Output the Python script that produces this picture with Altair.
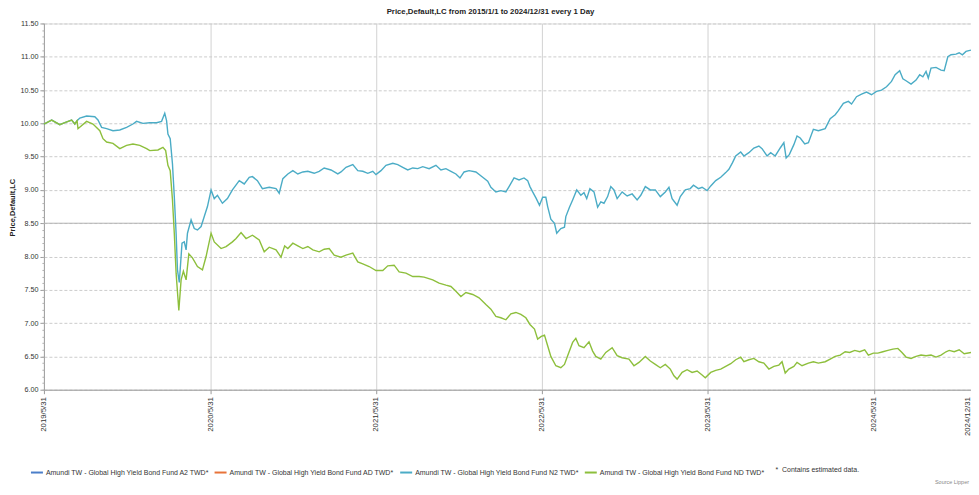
import altair as alt
import pandas as pd

TITLE = "Price,Default,LC from 2015/1/1 to 2024/12/31 every 1 Day"
Y_TITLE = "Price,Default,LC"
SOURCE = "Source Lipper"
NOTE = "*\u00a0\u00a0Contains estimated data."

FUNDS = [
    "Amundi TW - Global High Yield Bond Fund A2 TWD*",
    "Amundi TW - Global High Yield Bond Fund AD TWD*",
    "Amundi TW - Global High Yield Bond Fund N2 TWD*",
    "Amundi TW - Global High Yield Bond Fund ND TWD*",
]
FUND_COLORS = ["#4a7ec9", "#e8733a", "#4bacc6", "#8dbf3c"]

X_TICKS = ["2019-05-31", "2020-05-31", "2021-05-31", "2022-05-31",
           "2023-05-31", "2024-05-31", "2024-12-31"]
Y_MAJOR = [6.0, 6.5, 7.0, 7.5, 8.0, 8.5, 9.0, 9.5, 10.0, 10.5, 11.0, 11.5]
Y_MINOR = [round(6.0 + 0.1 * i, 1) for i in range(56)]

n2_dates = [
    "2019-05-31", "2019-06-17", "2019-07-05", "2019-07-16", "2019-07-31", "2019-08-07", "2019-08-12",
    "2019-08-18", "2019-09-02", "2019-09-20", "2019-09-27", "2019-10-05", "2019-10-16", "2019-10-30",
    "2019-11-14", "2019-11-29", "2019-12-13", "2019-12-21", "2020-01-04", "2020-01-19", "2020-02-03",
    "2020-02-14", "2020-02-21", "2020-02-25", "2020-02-28", "2020-03-04", "2020-03-09", "2020-03-13",
    "2020-03-17", "2020-03-20", "2020-03-24", "2020-03-30", "2020-04-04", "2020-04-08", "2020-04-11",
    "2020-04-19", "2020-04-26", "2020-05-03", "2020-05-11", "2020-05-18", "2020-05-25", "2020-06-02",
    "2020-06-09", "2020-06-16", "2020-06-27", "2020-07-08", "2020-07-19", "2020-08-03", "2020-08-14",
    "2020-08-25", "2020-09-01", "2020-09-12", "2020-09-23", "2020-10-08", "2020-10-23", "2020-10-30",
    "2020-11-07", "2020-11-18", "2020-11-29", "2020-12-10", "2020-12-21", "2021-01-01", "2021-01-15",
    "2021-01-26", "2021-02-06", "2021-02-21", "2021-03-08", "2021-03-15", "2021-03-26", "2021-04-10",
    "2021-04-21", "2021-05-02", "2021-05-13", "2021-05-24", "2021-05-31", "2021-06-11", "2021-06-22",
    "2021-07-07", "2021-07-18", "2021-07-29", "2021-08-09", "2021-08-20", "2021-08-31", "2021-09-11",
    "2021-09-25", "2021-10-10", "2021-10-21", "2021-11-01", "2021-11-12", "2021-11-23", "2021-12-02",
    "2021-12-11", "2021-12-22", "2022-01-06", "2022-01-21", "2022-02-01", "2022-02-08", "2022-02-19",
    "2022-03-02", "2022-03-13", "2022-03-20", "2022-03-31", "2022-04-11", "2022-04-22", "2022-04-30",
    "2022-05-05", "2022-05-11", "2022-05-19", "2022-05-26", "2022-06-02", "2022-06-09", "2022-06-13",
    "2022-06-20", "2022-06-28", "2022-07-03", "2022-07-12", "2022-07-20", "2022-07-23", "2022-07-31",
    "2022-08-07", "2022-08-16", "2022-08-25", "2022-09-01", "2022-09-07", "2022-09-14", "2022-09-23",
    "2022-10-01", "2022-10-08", "2022-10-15", "2022-10-23", "2022-10-30", "2022-11-06", "2022-11-13",
    "2022-11-24", "2022-12-05", "2022-12-16", "2022-12-27", "2023-01-04", "2023-01-14", "2023-01-25",
    "2023-02-05", "2023-02-16", "2023-02-27", "2023-03-07", "2023-03-14", "2023-03-25", "2023-04-01",
    "2023-04-12", "2023-04-23", "2023-04-30", "2023-05-11", "2023-05-19", "2023-05-30", "2023-06-07",
    "2023-06-18", "2023-06-29", "2023-07-10", "2023-07-17", "2023-07-25", "2023-08-01", "2023-08-12",
    "2023-08-19", "2023-08-30", "2023-09-10", "2023-09-21", "2023-09-28", "2023-10-09", "2023-10-17",
    "2023-10-27", "2023-11-07", "2023-11-15", "2023-11-20", "2023-11-27", "2023-12-07", "2023-12-14",
    "2023-12-21", "2023-12-31", "2024-01-08", "2024-01-19", "2024-01-30", "2024-02-14", "2024-02-25",
    "2024-03-07", "2024-03-14", "2024-03-25", "2024-04-05", "2024-04-12", "2024-04-23", "2024-05-04",
    "2024-05-15", "2024-05-26", "2024-06-06", "2024-06-17", "2024-06-28", "2024-07-09", "2024-07-17",
    "2024-07-27", "2024-08-03", "2024-08-10", "2024-08-21", "2024-09-01", "2024-09-09", "2024-09-16",
    "2024-09-23", "2024-09-28", "2024-10-04", "2024-10-15", "2024-10-26", "2024-11-02", "2024-11-10",
    "2024-11-17", "2024-11-28", "2024-12-05", "2024-12-12", "2024-12-20", "2024-12-31",
]
n2_values = [
    9.99, 10.05, 9.98, 10.01, 10.05, 9.99, 10.04,
    10.08, 10.11, 10.10, 10.05, 9.94, 9.92, 9.89,
    9.90, 9.94, 9.99, 10.03, 10.00, 10.01, 10.01,
    10.03, 10.15, 10.04, 9.84, 9.77, 9.39, 8.90,
    8.35, 7.80, 7.61, 8.20, 8.22, 8.10, 8.35,
    8.55, 8.42, 8.40, 8.45, 8.60, 8.75, 9.00,
    8.87, 8.92, 8.80, 8.87, 9.00, 9.14, 9.09,
    9.19, 9.20, 9.14, 9.02, 9.04, 9.02, 8.95,
    9.17, 9.24, 9.29, 9.24, 9.27, 9.28, 9.25,
    9.28, 9.33, 9.30, 9.24, 9.27, 9.34, 9.38,
    9.29, 9.28, 9.25, 9.28, 9.23, 9.29, 9.37,
    9.40, 9.38, 9.34, 9.30, 9.33, 9.32, 9.35,
    9.32, 9.37, 9.30, 9.32, 9.28, 9.24, 9.18,
    9.27, 9.29, 9.27, 9.19, 9.13, 9.04, 8.97,
    8.99, 8.97, 9.05, 9.18, 9.15, 9.18, 9.14,
    9.05, 8.97, 8.87, 8.77, 8.89, 8.89, 8.75,
    8.56, 8.50, 8.35, 8.42, 8.44, 8.60, 8.74,
    8.85, 9.00, 8.92, 8.96, 8.87, 9.02, 8.97,
    8.74, 8.82, 8.80, 8.90, 9.05, 9.00, 8.87,
    8.97, 8.91, 8.94, 8.85, 8.92, 9.05, 9.00,
    9.00, 8.90, 8.97, 9.04, 8.87, 8.77, 8.90,
    9.00, 9.02, 9.07, 9.02, 9.04, 8.99, 9.06,
    9.14, 9.19, 9.26, 9.31, 9.41, 9.51, 9.57,
    9.51, 9.56, 9.63, 9.66, 9.62, 9.51, 9.56,
    9.51, 9.63, 9.71, 9.48, 9.53, 9.68, 9.81,
    9.78, 9.69, 9.71, 9.91, 9.89, 9.92, 10.07,
    10.13, 10.19, 10.30, 10.33, 10.29, 10.40, 10.44,
    10.47, 10.43, 10.48, 10.50, 10.55, 10.63, 10.73,
    10.79, 10.67, 10.64, 10.59, 10.65, 10.73, 10.70,
    10.78, 10.68, 10.83, 10.84, 10.80, 10.79, 11.00,
    11.03, 11.04, 11.06, 11.03, 11.08, 11.10,
]

nd_dates = [
    "2019-05-31", "2019-06-17", "2019-07-05", "2019-07-16", "2019-07-31", "2019-08-07", "2019-08-12",
    "2019-08-14", "2019-09-02", "2019-09-16", "2019-10-01", "2019-10-08", "2019-10-16", "2019-10-30",
    "2019-11-14", "2019-11-29", "2019-12-13", "2019-12-28", "2020-01-12", "2020-01-19", "2020-02-06",
    "2020-02-17", "2020-02-23", "2020-02-28", "2020-03-04", "2020-03-09", "2020-03-13", "2020-03-17",
    "2020-03-23", "2020-03-28", "2020-04-02", "2020-04-08", "2020-04-14", "2020-04-22", "2020-05-03",
    "2020-05-14", "2020-05-22", "2020-06-02", "2020-06-09", "2020-06-24", "2020-07-05", "2020-07-19",
    "2020-07-27", "2020-08-07", "2020-08-18", "2020-09-01", "2020-09-16", "2020-09-27", "2020-10-08",
    "2020-10-23", "2020-11-03", "2020-11-11", "2020-11-18", "2020-11-29", "2020-12-10", "2020-12-21",
    "2021-01-01", "2021-01-12", "2021-01-26", "2021-02-06", "2021-02-17", "2021-02-28", "2021-03-15",
    "2021-03-26", "2021-04-10", "2021-04-21", "2021-05-02", "2021-05-16", "2021-05-31", "2021-06-15",
    "2021-06-26", "2021-07-10", "2021-07-21", "2021-08-05", "2021-08-20", "2021-09-03", "2021-09-14",
    "2021-10-03", "2021-10-17", "2021-11-01", "2021-11-12", "2021-11-23", "2021-12-04", "2021-12-15",
    "2021-12-30", "2022-01-13", "2022-01-28", "2022-02-08", "2022-02-19", "2022-03-02", "2022-03-13",
    "2022-03-24", "2022-04-04", "2022-04-15", "2022-04-26", "2022-05-05", "2022-05-15", "2022-05-22",
    "2022-05-30", "2022-06-06", "2022-06-13", "2022-06-20", "2022-07-01", "2022-07-12", "2022-07-20",
    "2022-07-27", "2022-08-07", "2022-08-14", "2022-08-21", "2022-09-01", "2022-09-12", "2022-09-20",
    "2022-09-27", "2022-10-08", "2022-10-19", "2022-11-02", "2022-11-13", "2022-11-24", "2022-12-09",
    "2022-12-20", "2022-12-31", "2023-01-14", "2023-01-25", "2023-02-05", "2023-02-16", "2023-02-27",
    "2023-03-10", "2023-03-18", "2023-03-25", "2023-04-05", "2023-04-16", "2023-04-27", "2023-05-08",
    "2023-05-19", "2023-05-26", "2023-06-07", "2023-06-18", "2023-06-29", "2023-07-10", "2023-07-21",
    "2023-08-01", "2023-08-12", "2023-08-19", "2023-08-30", "2023-09-10", "2023-09-21", "2023-10-02",
    "2023-10-13", "2023-10-24", "2023-11-04", "2023-11-11", "2023-11-18", "2023-11-26", "2023-12-07",
    "2023-12-14", "2023-12-25", "2024-01-08", "2024-01-19", "2024-01-30", "2024-02-14", "2024-02-25",
    "2024-03-07", "2024-03-18", "2024-03-29", "2024-04-08", "2024-04-19", "2024-04-30", "2024-05-11",
    "2024-05-19", "2024-05-30", "2024-06-09", "2024-06-20", "2024-07-01", "2024-07-12", "2024-07-23",
    "2024-08-01", "2024-08-10", "2024-08-21", "2024-09-01", "2024-09-12", "2024-09-23", "2024-10-04",
    "2024-10-15", "2024-10-26", "2024-11-06", "2024-11-13", "2024-11-24", "2024-12-05", "2024-12-16",
    "2024-12-31",
]
nd_values = [
    9.99, 10.05, 9.98, 10.01, 10.05, 9.99, 10.04,
    9.92, 10.03, 9.99, 9.89, 9.77, 9.72, 9.70,
    9.62, 9.67, 9.69, 9.67, 9.62, 9.59, 9.60,
    9.64, 9.59, 9.37, 9.29, 8.85, 8.35, 7.75,
    7.19, 7.65, 7.78, 7.65, 8.04, 7.98, 7.85,
    7.80, 8.00, 8.35, 8.22, 8.12, 8.15, 8.22,
    8.27, 8.36, 8.27, 8.32, 8.25, 8.07, 8.14,
    8.10, 7.99, 8.16, 8.12, 8.20, 8.16, 8.12,
    8.15, 8.10, 8.07, 8.11, 8.12, 8.02, 7.99,
    8.02, 8.05, 7.92, 7.89, 7.85, 7.79, 7.79,
    7.86, 7.87, 7.77, 7.75, 7.70, 7.70, 7.69,
    7.65, 7.60, 7.57, 7.55, 7.48, 7.40, 7.46,
    7.43, 7.38, 7.28, 7.21, 7.10, 7.08, 7.05,
    7.14, 7.16, 7.13, 7.08, 6.98, 6.91, 6.76,
    6.80, 6.82, 6.66, 6.50, 6.36, 6.33, 6.38,
    6.51, 6.71, 6.77, 6.66, 6.63, 6.72, 6.58,
    6.50, 6.46, 6.56, 6.63, 6.51, 6.48, 6.46,
    6.36, 6.41, 6.50, 6.43, 6.38, 6.33, 6.38,
    6.31, 6.21, 6.16, 6.26, 6.30, 6.26, 6.28,
    6.22, 6.18, 6.26, 6.29, 6.31, 6.35, 6.39,
    6.45, 6.49, 6.42, 6.45, 6.47, 6.42, 6.40,
    6.31, 6.35, 6.37, 6.42, 6.25, 6.31, 6.35,
    6.41, 6.36, 6.40, 6.42, 6.40, 6.42, 6.46,
    6.50, 6.52, 6.57, 6.56, 6.59, 6.57, 6.60,
    6.52, 6.55, 6.55, 6.57, 6.59, 6.61, 6.62,
    6.56, 6.49, 6.47, 6.50, 6.52, 6.51, 6.52,
    6.49, 6.52, 6.57, 6.59, 6.57, 6.60, 6.54,
    6.56,
]

n2_df = pd.DataFrame({"date": n2_dates, "value": n2_values, "fund": FUNDS[2]})
nd_df = pd.DataFrame({"date": nd_dates, "value": nd_values, "fund": FUNDS[3]})
ref_df = pd.DataFrame({"level": [8.5]})
src_df = pd.DataFrame({"t": [SOURCE]})
note_df = pd.DataFrame({"t": [NOTE]})

FONT = "Liberation Sans"


def dt(s):
    y, m, d = (int(p) for p in s.split("-"))
    return alt.DateTime(year=y, month=m, date=d, utc=True)


x_scale = alt.Scale(type="utc", domain=[dt(X_TICKS[0]), dt(X_TICKS[-1])], nice=False)
y_scale = alt.Scale(domain=[6.0, 11.5], nice=False, zero=False)

x_axis = alt.Axis(
    values=[dt(s) for s in X_TICKS],
    labelExpr="utcFormat(datum.value, '%Y/%-m/%-d')",
    labelAngle=270, labelFont=FONT, labelFontSize=7.8, labelColor="#333333",
    labelBaseline=alt.ExprRef(expr="datum.index >= 1 ? 'bottom' : 'middle'"),
    labelPadding=3, labelOverlap=False, labelFlush=False, labelBound=False,
    tickSize=4, tickColor="#9a9a9a", domainColor="#a0a0a0",
    grid=True, gridColor="#d2d2d2", gridWidth=1, title=None,
)
y_axis = alt.Axis(
    values=Y_MAJOR, format=".2f", labelFont=FONT, labelFontSize=7.2, labelColor="#333333",
    labelPadding=2, tickSize=4, tickColor="#9a9a9a", domainColor="#a0a0a0",
    grid=True, gridColor="#cccccc", gridDash=[3, 2], gridWidth=1,
    title=Y_TITLE, titleFont=FONT, titleFontSize=7.5, titleFontWeight="bold",
    titleColor="#222222", titleAngle=270, titleX=-31, titleY=184,
    titleAlign="center", titleBaseline="middle",
)
y_minor_axis = alt.Axis(
    values=Y_MINOR, labels=False, tickSize=2, tickColor="#b0b0b0",
    domain=False, grid=False, title=None, orient="left",
)

color = alt.Color(
    "fund:N",
    scale=alt.Scale(domain=FUNDS, range=FUND_COLORS),
    legend=alt.Legend(
        title=None, orient="none", direction="horizontal", columns=4,
        legendX=-14, legendY=443, symbolType="stroke", symbolSize=144,
        symbolStrokeWidth=2, labelFont=FONT, labelFontSize=7.0, labelColor="#333333",
        labelLimit=400, columnPadding=1, labelOffset=2,
    ),
)

x_enc = alt.X("date:T", scale=x_scale, axis=x_axis)

n2_line = alt.Chart(n2_df).mark_line(strokeWidth=1.4).encode(
    x=x_enc, y=alt.Y("value:Q", scale=y_scale, axis=y_axis), color=color,
)
nd_line = alt.Chart(nd_df).mark_line(strokeWidth=1.4).encode(
    x=x_enc, y=alt.Y("value:Q", scale=y_scale, axis=y_minor_axis), color=color,
)
mid_rule = alt.Chart(ref_df).mark_rule(color="#b4b4b4", strokeWidth=1).encode(
    y=alt.Y("level:Q", scale=y_scale, axis=None),
)
source = alt.Chart(src_df).mark_text(
    font=FONT, fontSize=5.5, color="#888888", align="right", baseline="bottom",
).encode(text="t:N", x=alt.value(927), y=alt.value(462))
note = alt.Chart(note_df).mark_text(
    font=FONT, fontSize=7.0, color="#333333", align="left", baseline="middle",
).encode(text="t:N", x=alt.value(733), y=alt.value(447))

chart = alt.layer(mid_rule, n2_line, nd_line, source, note).resolve_axis(y="independent").properties(
    width=929, height=367,
    autosize=alt.AutoSizeParams(type="none"),
    padding={"left": 36, "top": 15, "right": 0, "bottom": 97},
    title=alt.TitleParams(
        TITLE, font=FONT, fontSize=7.8, fontWeight="bold", color="#222222",
        anchor="middle", dx=-17, offset=4,
    ),
).configure_view(stroke="#a8a8a8", strokeWidth=1).configure(background="white")

chart.save("out.html", embed_options={"renderer": "svg", "actions": False})
